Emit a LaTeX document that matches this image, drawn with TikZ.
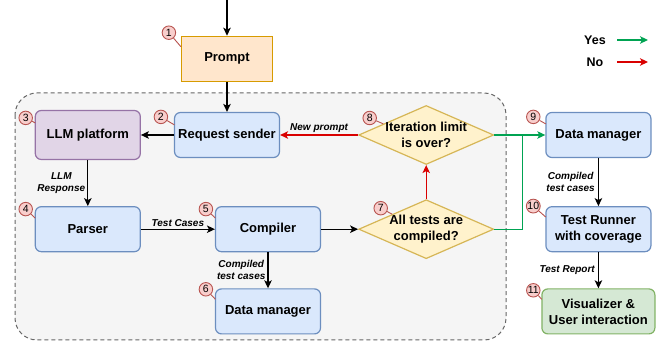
\documentclass[tikz,border=0pt]{standalone}
\usepackage{fontspec}
\setmainfont{Liberation Sans}
\usetikzlibrary{arrows.meta,positioning,calc,shapes.geometric}

\definecolor{blueFill}{HTML}{DAE8FC}
\definecolor{blueLine}{HTML}{6C8EBF}
\definecolor{orgFill}{HTML}{FFE6CC}
\definecolor{orgLine}{HTML}{D79B00}
\definecolor{purFill}{HTML}{E1D5E7}
\definecolor{purLine}{HTML}{9673A6}
\definecolor{grnFill}{HTML}{D5E8D4}
\definecolor{grnLine}{HTML}{82B366}
\definecolor{yelFill}{HTML}{FFF2CC}
\definecolor{yelLine}{HTML}{D6B656}
\definecolor{redFill}{HTML}{F8CECC}
\definecolor{redLine}{HTML}{B85450}
\definecolor{yesGreen}{HTML}{00A352}
\definecolor{noRed}{HTML}{D90000}
\definecolor{groupFill}{HTML}{F5F5F5}
\definecolor{groupLine}{HTML}{666666}

\begin{document}
\begin{tikzpicture}[x=1pt, y=1pt, line width=1.2pt, >={Stealth[length=8pt,width=7.5pt,inset=2pt]},
  box/.style={draw=blueLine, fill=blueFill, rounded corners=6pt, minimum width=105pt, minimum height=45pt, inner sep=2pt, align=center, font=\bfseries\fontsize{13}{16}\selectfont},
  choice/.style={diamond, draw=yelLine, fill=yelFill, minimum width=135pt, minimum height=59pt, inner sep=-8pt, aspect=2.3, align=center, font=\bfseries\fontsize{13}{16}\selectfont},
  num/.style={circle, draw=redLine, fill=redFill, line width=0.9pt, minimum size=13.5pt, inner sep=0pt, font=\fontsize{10.5}{12}\selectfont},
  numline/.style={draw=redLine, line width=0.9pt},
  lbl/.style={font=\bfseries\itshape\fontsize{10}{12}\selectfont, align=center, inner sep=2pt},
  legend/.style={font=\bfseries\fontsize{12.5}{14}\selectfont},
  yes/.style={->, color=yesGreen},
  no/.style={->, color=noRed}]
\useasboundingbox (0,0) rectangle (656,-344);

% dashed group behind the loop
\draw[draw=groupLine, fill=groupFill, dashed, dash pattern=on 4pt off 3pt, line width=1pt, rounded corners=22pt] (15,-93) rectangle (506,-340);

\node[box] (sender) at (227,-135) {Request sender};
\node[box, draw=orgLine, fill=orgFill, rounded corners=0pt, minimum width=91pt, above=30pt of sender] (prompt) {Prompt};
\node[box, draw=purLine, fill=purFill, minimum height=49pt, left=33pt of sender] (llm) {LLM platform};
\node[box, below=46pt of llm] (parser) {Parser};
\node[box, right=74pt of parser] (compiler) {Compiler};
\node[box, below=36pt of compiler] (dm6) {Data manager};
\node[choice, right=37pt of compiler] (alltests) {All tests are\\compiled?};
\node[choice, above=34pt of alltests] (iter) {Iteration limit\\is over?};
\node[box, right=51pt of iter] (dm9) {Data manager};
\node[box, below=48pt of dm9] (runner) {Test Runner\\with coverage};
\node[box, draw=grnLine, fill=grnFill, minimum width=113pt, below=36pt of runner] (vis) {Visualizer \&\\User interaction};

\coordinate[above=37pt of prompt.north] (start);
\coordinate (merge) at ($(iter.east)!0.55!(dm9.west)$);

\draw[->] (start) -- (prompt);
\draw[->] (prompt) -- (sender);
\draw[->] (sender) -- (llm);
\draw[->] (llm) -- node[lbl, left]{LLM\\Response} (parser);
\draw[->] (parser) -- node[lbl, above]{Test Cases} (compiler);
\draw[->] (compiler) -- node[lbl, left]{Compiled\\test cases} (dm6);
\draw[->] (compiler) -- (alltests);
\draw[no] (alltests) -- (iter);
\draw[no] (iter) -- node[lbl, above, text=black]{New prompt} (sender);
\draw[yes] (iter) -- (dm9);
\draw[color=yesGreen, line width=1.3pt] (alltests.east) -| (merge);
\draw[->] (dm9) -- node[lbl, left, inner sep=3pt]{Compiled\\test cases} (runner);
\draw[->] (runner) -- node[lbl, left, inner sep=3pt]{Test Report} (vis);

% step numbers
\node[num] (n1) at ([shift={(-12,3)}]prompt.north west) {1};
\node[num] (n2) at ([shift={(-13,-5)}]sender.north west) {2};
\node[num] (n3) at ([shift={(-9,-8)}]llm.north west) {3};
\node[num] (n4) at ([shift={(-9,-3)}]parser.north west) {4};
\node[num] (n5) at ([shift={(-9,-3)}]compiler.north west) {5};
\node[num] (n6) at ([shift={(-9,-1)}]dm6.north west) {6};
\node[num] (n7) at ([shift={(-45.5,21)}]alltests.center) {7};
\node[num] (n8) at ([shift={(-56.5,17)}]iter.center) {8};
\node[num] (n9) at ([shift={(-12,-5)}]dm9.north west) {9};
\node[num] (n10) at ([shift={(-12,0)}]runner.north west) {10};
\node[num] (n11) at ([shift={(-8,-2)}]vis.north west) {11};

\draw[numline] (n1) -- ([yshift=-11]prompt.north west);
\draw[numline] (n2) -- ([shift={(0.5,-13)}]sender.north west);
\draw[numline] (n3) -- ([shift={(0.5,-13)}]llm.north west);
\draw[numline] (n4) -- ([shift={(0.5,-12)}]parser.north west);
\draw[numline] (n5) -- ([shift={(0.5,-12)}]compiler.north west);
\draw[numline] (n6) -- ([shift={(0.5,-11)}]dm6.north west);
\draw[numline] (n7) -- (alltests.north west);
\draw[numline] (n8) -- ($(iter.west)!0.37!(iter.north)$);
\draw[numline] (n9) -- ([shift={(0.5,-12)}]dm9.north west);
\draw[numline] (n10) -- ([shift={(0.5,-11)}]runner.north west);
\draw[numline] (n11) -- ([shift={(0.5,-11)}]vis.north west);

% legend
\node[legend] (yeslbl) at (595,-40) {Yes};
\node[legend] (nolbl) at (595,-62) {No};
\coordinate (yesA) at (617,-40);
\coordinate (yesB) at (648,-40);
\coordinate (noA) at (617,-62);
\coordinate (noB) at (648,-62);
\draw[yes] (yesA) -- (yesB);
\draw[no] (noA) -- (noB);
\end{tikzpicture}
\end{document}
